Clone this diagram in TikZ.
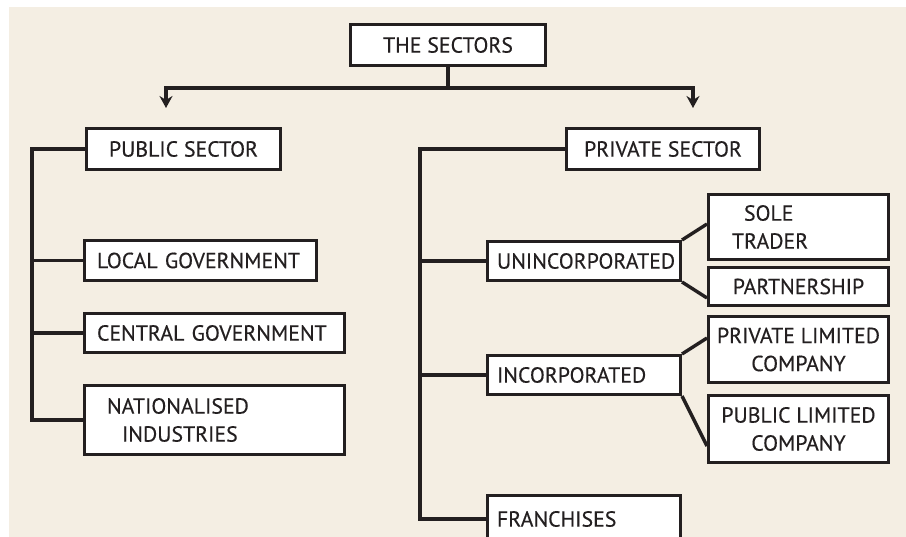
\documentclass[tikz,border=0pt]{standalone}
\usepackage{fontspec}
\newfontfamily\boxfont{PT Sans}[FakeBold=0.35]
\usetikzlibrary{arrows.meta}
\definecolor{bgbeige}{RGB}{244,238,227}
\definecolor{ink}{RGB}{35,31,32}
\tikzset{
  box/.style={draw=ink, line width=3pt, fill=white, inner sep=0pt, text=ink,
    font=\boxfont\fontsize{21.8}{28}\selectfont},
  cbox/.style={box, align=center},
  lbox/.style={box, align=left, text width=#1},
  conn/.style={draw=ink, line width=3.4pt},
  arr/.style={conn, -{Stealth[length=12pt,width=13pt,inset=4pt]}}
}
\begin{document}
\begin{tikzpicture}[x=1pt,y=-1pt]
\useasboundingbox (0,0) rectangle (906,537);
\fill[white] (0,0) rectangle (906,537);
\fill[bgbeige] (9,7) rectangle (906,537);

% top
\node[cbox, minimum width=195pt, minimum height=41pt] (sectors) at (448,45) {THE SECTORS};
\node[cbox, minimum width=194pt, minimum height=41pt] (public) at (183.5,149) {PUBLIC SECTOR};
\node[cbox, minimum width=193pt, minimum height=41pt] (private) at (663,149) {PRIVATE SECTOR};

% public side
\node[lbox=207pt, minimum width=232pt, minimum height=40pt] (local) at (200.5,260.5) {\mbox{LOCAL GOVERNMENT}};
\node[lbox=235pt, minimum width=260pt, minimum height=39pt] (central) at (214.5,333) {\mbox{CENTRAL GOVERNMENT}};
\node[lbox=215pt, minimum width=260pt, minimum height=69pt] (national) at (214.5,420) {\mbox{NATIONALISED}\\\hspace*{15pt}\mbox{INDUSTRIES}};

% private side
\node[lbox=174pt, minimum width=193pt, minimum height=39pt] (uninc) at (584,261) {\mbox{UNINCORPORATED}};
\node[lbox=174pt, minimum width=193pt, minimum height=39pt] (inc) at (584,375) {\mbox{INCORPORATED}};
\node[lbox=174pt, minimum width=193pt, minimum height=46pt] (franch) at (584,519) {\mbox{FRANCHISES}};

\node[lbox=133pt, minimum width=180pt, minimum height=65pt] (sole) at (798.5,227) {\hspace*{12pt}\mbox{SOLE}\\\mbox{TRADER}};
\node[cbox, minimum width=180pt, minimum height=38pt] (partner) at (798.5,286.5) {PARTNERSHIP};
\node[cbox, minimum width=180pt, minimum height=66pt] (pvtltd) at (798.5,349.5) {PRIVATE LIMITED\\COMPANY};
\node[cbox, minimum width=180pt, minimum height=67pt] (publtd) at (798.5,429) {PUBLIC LIMITED\\COMPANY};

% top connectors
\coordinate (j) at (448,88);
\coordinate (aL) at (166,108);
\coordinate (aR) at (693,108);
\draw[conn] (sectors.south) -- (j);
\draw[arr] (j) -| (aL);
\draw[arr] (j) -| (aR);

% public tree
\draw[conn] (public.west) -- ++(-53,0) |- (national.west);
\draw[conn] (local.west) -- ++(-51,0);
\draw[conn] (central.west) -- ++(-51,0);

% private tree
\draw[conn] (private.west) -- ++(-145,0) |- (franch.west);
\draw[conn] (uninc.west) -- ++(-66,0);
\draw[conn] (inc.west) -- ++(-66,0);

% diagonals
\draw[conn] (uninc.north east) -- ([yshift=3pt]sole.west);
\draw[conn] (uninc.south east) -- ([yshift=-11.5pt]partner.west);
\draw[conn] (inc.north east) -- ([yshift=11.5pt]pvtltd.west);
\draw[conn] (inc.south east) -- ([yshift=-17pt]publtd.west);
\end{tikzpicture}
\end{document}
